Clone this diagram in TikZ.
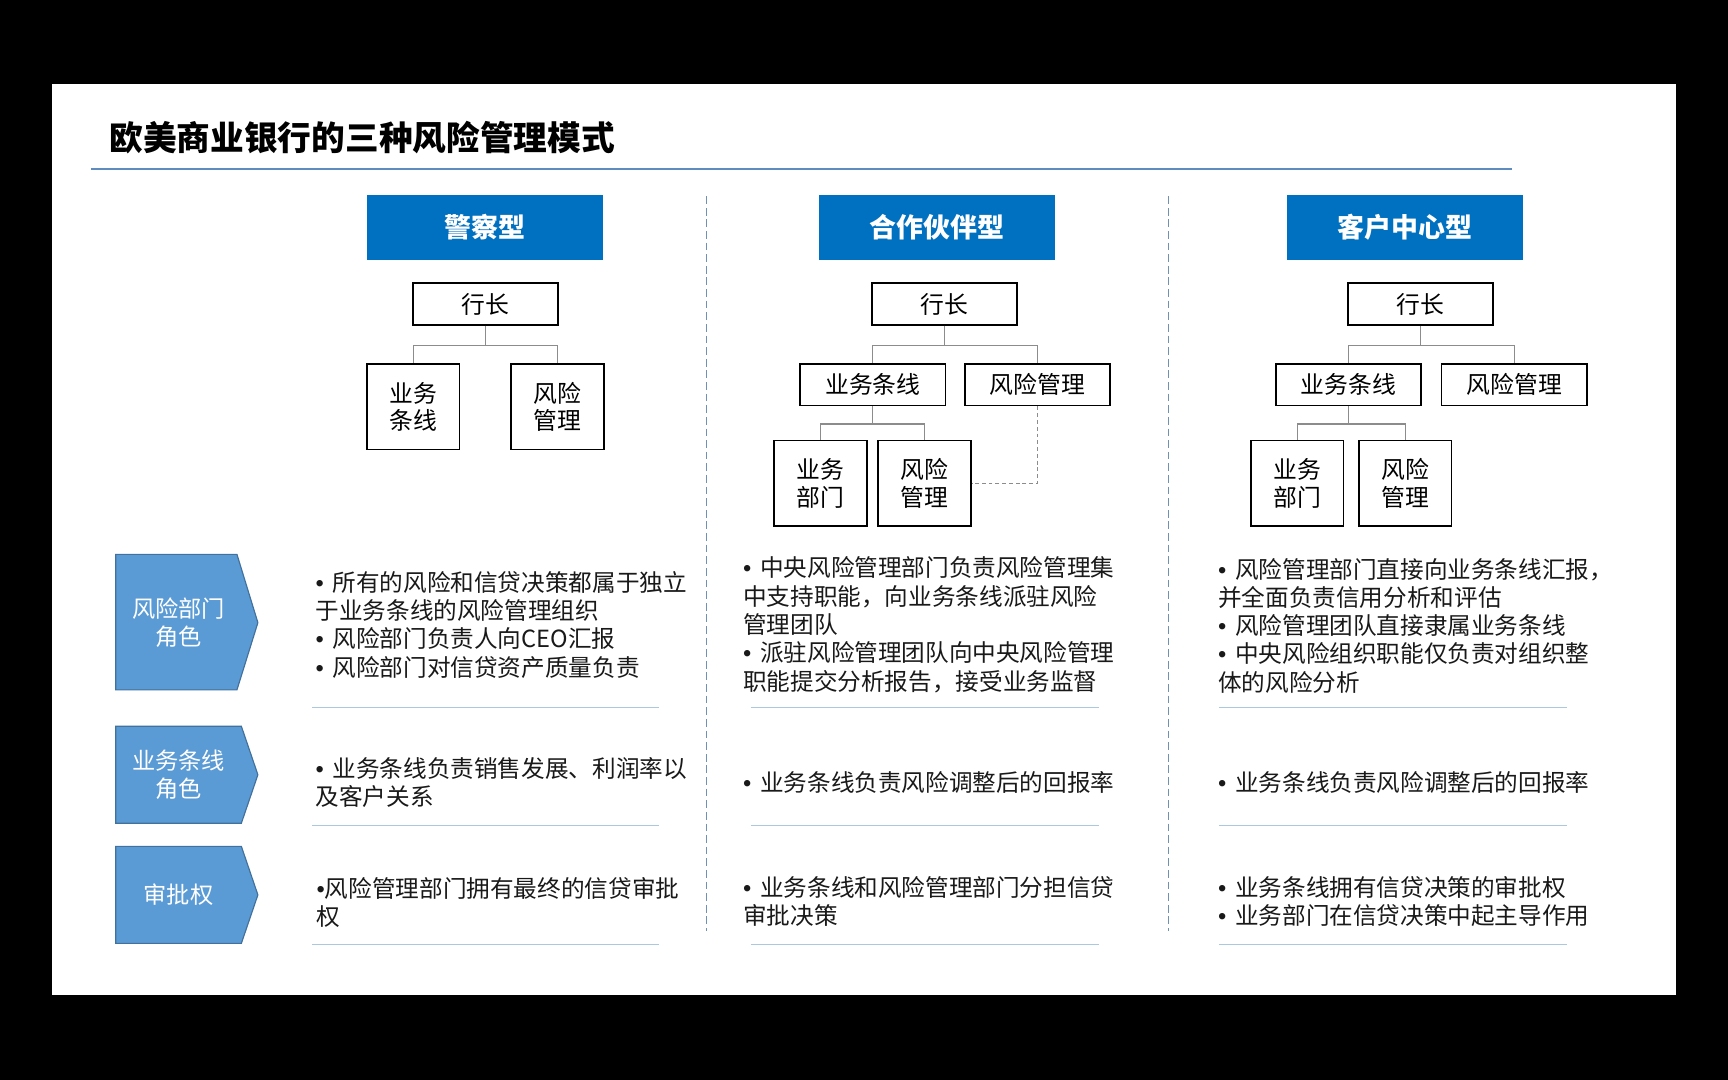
\documentclass[tikz,border=0pt]{standalone}
\usepackage{fontspec}
\setmainfont{Noto Sans CJK SC}
\newfontfamily\latinfont{Liberation Sans}
\newcommand{\bul}{{\latinfont •}\hspace{4.5pt}}
\newcommand{\bultight}{{\latinfont •}}
\definecolor{hdrblue}{RGB}{0,112,192}
\definecolor{pentblue}{RGB}{91,155,213}
\definecolor{pentedge}{RGB}{65,113,156}
\definecolor{sepblue}{RGB}{172,200,222}
\definecolor{dashblue}{RGB}{110,145,180}
\definecolor{rulebl}{RGB}{95,140,190}
\definecolor{linkgrey}{RGB}{140,140,140}
\definecolor{textblack}{RGB}{25,25,25}

\begin{document}
\begin{tikzpicture}[x=0.02cm,y=-0.02cm,
  every node/.append style={inner sep=0pt},
  hdr/.style={fill=hdrblue,text=white,font=\fontsize{13.9}{16}\selectfont\bfseries,minimum width=4.28cm,minimum height=1.18cm},
  orgbox/.style={draw=black,line width=0.9pt,fill=white,font=\fontsize{12.3}{14.2}\selectfont,align=center},
  wide/.style={orgbox,minimum width=2.64cm,minimum height=0.76cm},
  tall/.style={orgbox,minimum width=1.68cm,minimum height=1.55cm},
  link/.style={draw=linkgrey,line width=0.6pt},
  txt/.style={anchor=north west,align=left,font=\fontsize{12.2}{14.6}\selectfont,text=textblack},
  sep/.style={draw=sepblue,line width=0.7pt},
  divider/.style={draw=dashblue,line width=0.7pt,dash pattern=on 4pt off 2pt},
  role/.style={text=white,align=center,font=\fontsize{12}{14.4}\selectfont},
  pent/.style={fill=pentblue,draw=pentedge,line width=0.6pt}]
% frame
\fill[black] (0,0) rectangle (1568,980);
\fill[white] (47,76) rectangle (1521,903);
\useasboundingbox (0,0) rectangle (1568,980);

% title
\node[anchor=west,font=\fontsize{17.4}{20}\selectfont\bfseries] (title) at (99,125) {欧美商业银行的三种风险管理模式};
\draw[rulebl,line width=1pt] (83,153) -- (1372,153);

% column dividers
\draw[divider] (641,178) -- (641,845);
\draw[divider] (1060,178) -- (1060,845);

% headers
\node[hdr] (police) at (440,206.5) {警察型};
\node[hdr] (partner) at (850,206.5) {合作伙伴型};
\node[hdr] (client) at (1275,206.5) {客户中心型};

% org chart 1
\node[wide] (ceoA) at (440.5,276) {行长};
\node[tall,minimum height=1.56cm] (lineA) at (375,369) {业务\\条线};
\node[tall,minimum height=1.56cm] (riskA) at (506,369) {风险\\管理};
\draw[link] (ceoA.south) -- ++(0,18) -| (lineA.north);
\draw[link] (ceoA.south) -- ++(0,18) -| (riskA.north);

% org chart 2
\node[wide] (ceoB) at (857,276) {行长};
\node[wide] (lineB) at (792,349) {业务条线};
\node[wide] (riskB) at (941.5,349) {风险管理};
\node[tall] (deptB) at (744.5,438.5) {业务\\部门};
\node[tall] (teamB) at (839,438.5) {风险\\管理};
\draw[link] (ceoB.south) -- ++(0,18) -| (lineB.north);
\draw[link] (ceoB.south) -- ++(0,18) -| (riskB.north);
\draw[link] (lineB.south) -- ++(0,16) -| (deptB.north);
\draw[link] (lineB.south) -- ++(0,16) -| (teamB.north);
\draw[link,dash pattern=on 2pt off 1.5pt] (riskB.south) |- (teamB.east);

% org chart 3
\node[wide] (ceoC) at (1289,276) {行长};
\node[wide] (lineC) at (1223.5,349) {业务条线};
\node[wide] (riskC) at (1374,349) {风险管理};
\node[tall] (deptC) at (1177,438.5) {业务\\部门};
\node[tall] (teamC) at (1275,438.5) {风险\\管理};
\draw[link] (ceoC.south) -- ++(0,18) -| (lineC.north);
\draw[link] (ceoC.south) -- ++(0,18) -| (riskC.north);
\draw[link] (lineC.south) -- ++(0,16) -| (deptC.north);
\draw[link] (lineC.south) -- ++(0,16) -| (teamC.north);

% row labels
\draw[pent] (105,503) -- (215,503) -- (234,565) -- (215,626) -- (105,626) -- cycle;
\node[role] (roleRisk) at (162,565) {风险部门\\角色};
\draw[pent] (105,659) -- (219,659) -- (234,703) -- (219,747) -- (105,747) -- cycle;
\node[role] (roleLine) at (162,703) {业务条线\\角色};
\draw[pent] (105,768) -- (219,768) -- (234,812) -- (219,856) -- (105,856) -- cycle;
\node[role] (roleAppr) at (162,812) {审批权};

% column 1 texts
\node[txt] (a1) at (286,518) {\bul 所有的风险和信贷决策都属于独立\\于业务条线的风险管理组织\\\bul 风险部门负责人向CEO汇报\\\bul 风险部门对信贷资产质量负责};
\node[txt] (a2) at (286,687) {\bul 业务条线负责销售发展、利润率以\\及客户关系};
\node[txt] (a3) at (287,796) {\bultight 风险管理部门拥有最终的信贷审批\\权};
\draw[sep] (283,642) -- (598,642);
\draw[sep] (283,749) -- (598,749);
\draw[sep] (283,857) -- (598,857);

% column 2 texts
\node[txt] (b1) at (674,505) {\bul 中央风险管理部门负责风险管理集\\中支持职能，向业务条线派驻风险\\管理团队\\\bul 派驻风险管理团队向中央风险管理\\职能提交分析报告，接受业务监督};
\node[txt] (b2) at (674,700) {\bul 业务条线负责风险调整后的回报率};
\node[txt] (b3) at (674,795) {\bul 业务条线和风险管理部门分担信贷\\审批决策};
\draw[sep] (681,642) -- (997,642);
\draw[sep] (681,749) -- (997,749);
\draw[sep] (681,857) -- (997,857);

% column 3 texts
\node[txt] (c1) at (1105,506) {\bul 风险管理部门直接向业务条线汇报，\\并全面负责信用分析和评估\\\bul 风险管理团队直接隶属业务条线\\\bul 中央风险组织职能仅负责对组织整\\体的风险分析};
\node[txt] (c2) at (1105,700) {\bul 业务条线负责风险调整后的回报率};
\node[txt] (c3) at (1105,795) {\bul 业务条线拥有信贷决策的审批权\\\bul 业务部门在信贷决策中起主导作用};
\draw[sep] (1106,642) -- (1422,642);
\draw[sep] (1106,749) -- (1422,749);
\draw[sep] (1106,857) -- (1422,857);
\end{tikzpicture}
\end{document}
